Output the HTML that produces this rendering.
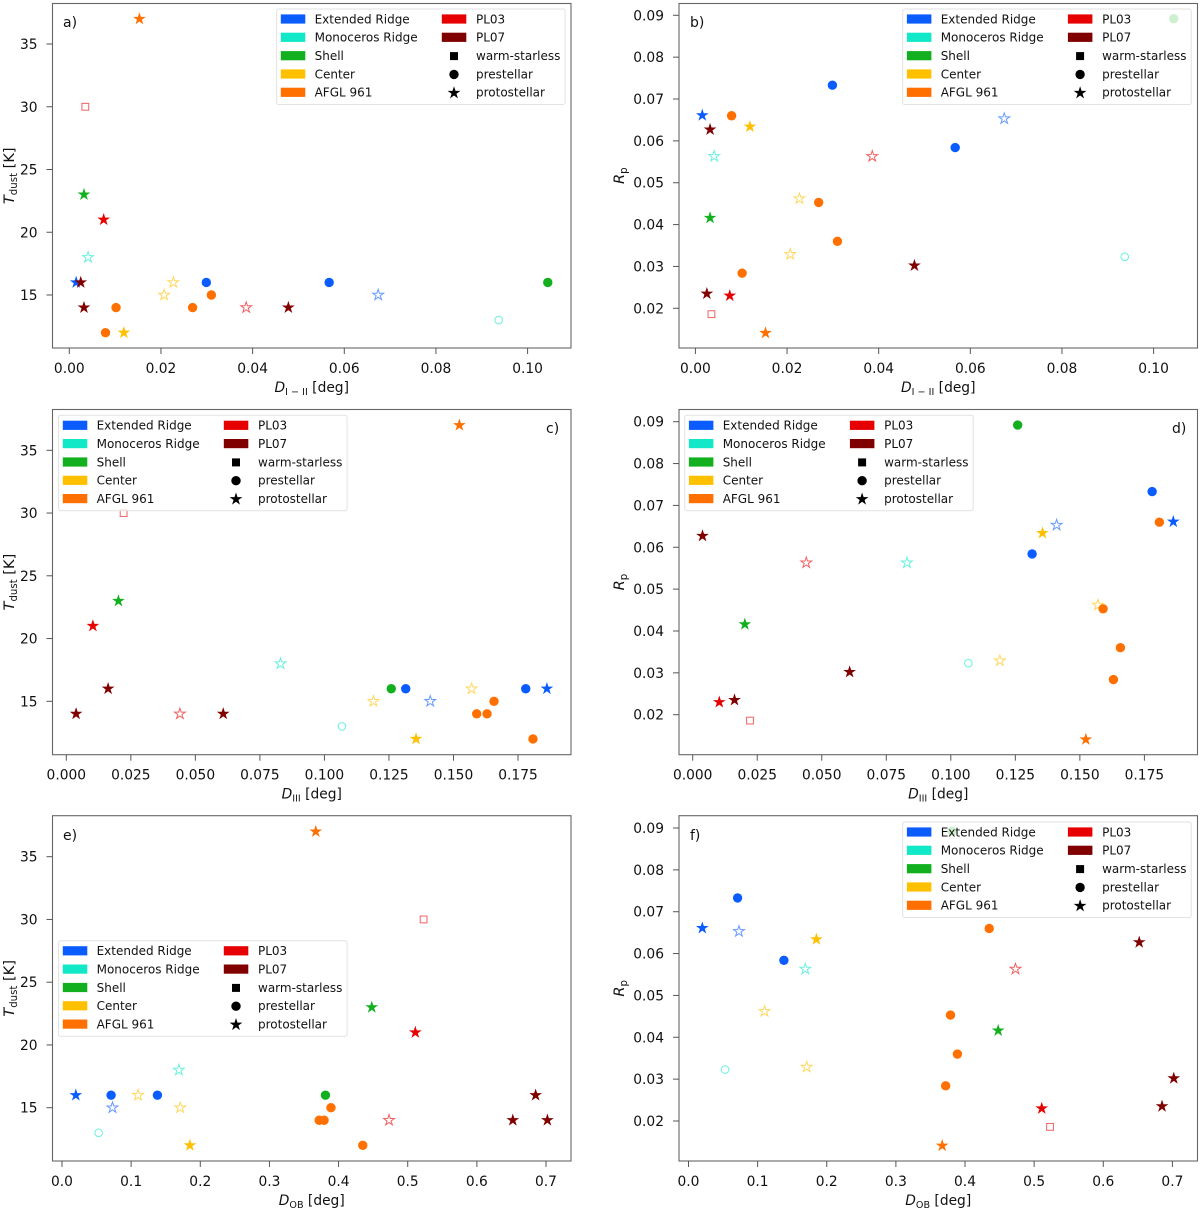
<!DOCTYPE html>
<html lang="en">
<head>
<meta charset="utf-8">
<title>Dust temperature and Rp versus projected distances</title>
<style>
html,body{margin:0;padding:0;background:#fff;}
#chart{display:block;width:1200px;height:1210px;filter:blur(0.3px);}
text{font-family:"DejaVu Sans","Liberation Sans",sans-serif;fill:#111;}
</style>
</head>
<body>
<svg id="chart" xmlns="http://www.w3.org/2000/svg" width="1200" height="1210" viewBox="0 0 1200 1210"></svg>
<script>
// ---------- data ----------
const regionNames = ['Extended Ridge','Monoceros Ridge','Shell','Center','AFGL 961','PL03','PL07'];
const classNames = ['warm-starless','prestellar','protostellar'];
const regionColors = ['#0a5cff','#10e8c8','#12b01e','#ffc000','#ff7000','#e60000','#800000'];
const sourceRegion = [0,0,0,0,1,1,2,2,3,3,3,4,4,4,4,4,5,5,5,6,6,6];
const sourceClass  = [2,1,1,2,2,1,2,1,2,2,2,2,1,1,1,1,0,2,2,2,2,2];
const sourceFilled = [1,1,1,0,0,0,1,1,0,0,1,1,1,1,1,1,0,1,0,1,1,1];
const tDust = [16,16,16,15,18,13,23,16,16,15,12,37,14,14,15,12,30,21,14,14,16,14];
const rP    = [0.0661,0.0733,0.0584,0.0653,0.0563,0.0323,0.0416,0.0892,0.0462,0.0329,0.0634,0.0141,0.0284,0.0453,0.0360,0.0660,0.0186,0.0230,0.0563,0.0627,0.0235,0.0302];
const dI_II = [0.0015,0.0299,0.0567,0.0674,0.0041,0.0937,0.0032,0.1044,0.0227,0.0207,0.0119,0.0153,0.0102,0.0269,0.0310,0.0079,0.0035,0.0075,0.0386,0.0032,0.0025,0.0478];
const dIII  = [0.1862,0.1780,0.1315,0.1410,0.0830,0.1068,0.0202,0.1259,0.1570,0.1190,0.1355,0.1523,0.1630,0.1590,0.1657,0.1808,0.0222,0.0103,0.0440,0.0038,0.0162,0.0608];
const dOB   = [0.020,0.071,0.138,0.073,0.169,0.053,0.448,0.381,0.110,0.171,0.185,0.367,0.372,0.379,0.389,0.435,0.523,0.511,0.473,0.652,0.685,0.702];
const ticksTemp = ['15','20','25','30','35'];
const ticksRp = ['0.02','0.03','0.04','0.05','0.06','0.07','0.08','0.09'];
const ticksDI = ['0.00','0.02','0.04','0.06','0.08','0.10'];
const ticksDIII = ['0.000','0.025','0.050','0.075','0.100','0.125','0.150','0.175'];
const ticksDOB = ['0.0','0.1','0.2','0.3','0.4','0.5','0.6','0.7'];

// ---------- layout of each panel ----------
const panels = [
 {tag:'a)',tagX:63,tagY:27,box:[52.5,571,3.5,348],xv:dI_II,xt:ticksDI,xa:[0,69.3,0.1,527.6],xl:['I − II'],yv:tDust,yt:ticksTemp,ya:[15,295,35,44],kind:'T',leg:[276.6,9]},
 {tag:'b)',tagX:690,tagY:27,box:[679,1197.5,3.5,348],xv:dI_II,xt:ticksDI,xa:[0,695.4,0.1,1153.6],xl:['I − II'],yv:rP,yt:ticksRp,ya:[0.02,308.3,0.09,15.3],kind:'R',leg:[902.7,9]},
 {tag:'c)',tagX:546,tagY:433,box:[52.5,571,409.5,754.7],xv:dIII,xt:ticksDIII,xa:[0,66.3,0.175,518],xl:['III'],yv:tDust,yt:ticksTemp,ya:[15,701.3,35,450.3],kind:'T',leg:[58.6,415.3]},
 {tag:'d)',tagX:1172,tagY:433,box:[679,1197.5,409.5,754.7],xv:dIII,xt:ticksDIII,xa:[0,692.7,0.175,1144.4],xl:['III'],yv:rP,yt:ticksRp,ya:[0.02,714.7,0.09,421.7],kind:'R',leg:[684.7,415.3]},
 {tag:'e)',tagX:63,tagY:840,box:[52.5,571,815.7,1161],xv:dOB,xt:ticksDOB,xa:[0,62,0.7,546],xl:['OB'],yv:tDust,yt:ticksTemp,ya:[15,1107.7,35,856.7],kind:'T',leg:[58.6,940.8]},
 {tag:'f)',tagX:690,tagY:840,box:[679,1197.5,815.7,1161],xv:dOB,xt:ticksDOB,xa:[0,688.5,0.7,1172.4],xl:['OB'],yv:rP,yt:ticksRp,ya:[0.02,1121,0.09,828],kind:'R',leg:[902.7,822]}
];

// ---------- helpers ----------
const NS = 'http://www.w3.org/2000/svg';
const svg = document.getElementById('chart');
function mk(tag, attrs, parent){
  const e = document.createElementNS(NS, tag);
  for (const k in attrs) e.setAttribute(k, attrs[k]);
  parent.appendChild(e);
  return e;
}
function scale(a){
  return v => a[1] + (v - a[0]) * (a[3] - a[1]) / (a[2] - a[0]);
}
function starPoints(cx, cy, R){
  const p = [];
  for (let i = 0; i < 10; i++){
    const r = i % 2 ? R * 0.382 : R;
    const t = -Math.PI / 2 + i * Math.PI / 5;
    p.push((cx + r * Math.cos(t)).toFixed(2) + ',' + (cy + r * Math.sin(t)).toFixed(2));
  }
  return p.join(' ');
}
function shape(cls, cx, cy, filled, attrs, parent){
  if (cls === 0){
    const s = filled ? 4 : 3.4;
    return mk('rect', Object.assign({x:cx-s,y:cy-s,width:s*2,height:s*2}, attrs), parent);
  }
  if (cls === 1){
    const rr = filled ? 4.7 : 3.8;
    return mk('circle', Object.assign({cx:cx,cy:cy,r:rr}, attrs), parent);
  }
  return mk('polygon', Object.assign({points:starPoints(cx,cy,filled ? 6.7 : 5.7)}, attrs), parent);
}
function sub(textEl, txt, fs){
  const s = mk('tspan', {dy:3,'font-size':fs}, textEl);
  s.textContent = txt;
  const back = mk('tspan', {dy:-3}, textEl);
  return back;
}

// ---------- drawing ----------
panels.forEach(function(p, pi){
  const letter = p.tag.charAt(0);
  const g = mk('g', {}, svg);
  
  
  const x = scale(p.xa), y = scale(p.ya);
  const L = p.box[0], R = p.box[1], T = p.box[2], B = p.box[3];

  const frame = mk('rect', {x:L,y:T,width:R-L,height:B-T,fill:'#fff',stroke:'#666','stroke-width':1.1}, g);
  
  

  // x ticks
  p.xt.forEach(function(lab){
    const px = x(parseFloat(lab));
    const tk = mk('line', {x1:px,x2:px,y1:B,y2:B+6,stroke:'#555','stroke-width':1}, g);
    
    
    const t = mk('text', {x:px,y:B+25,'text-anchor':'middle','font-size':13.8}, g);
    
    
    t.textContent = lab;
  });
  // y ticks
  p.yt.forEach(function(lab){
    const py = y(parseFloat(lab));
    const tk = mk('line', {x1:L-6,x2:L,y1:py,y2:py,stroke:'#555','stroke-width':1}, g);
    
    
    const t = mk('text', {x:L-15,y:py+5,'text-anchor':'end','font-size':13.8}, g);
    
    
    t.textContent = lab;
  });

  // x axis title
  const xt = mk('text', {x:(L+R)/2,y:B+44,'text-anchor':'middle','font-size':13.8}, g);
  
  
  const xi = mk('tspan', {'font-style':'italic'}, xt);
  xi.textContent = 'D';
  sub(xt, p.xl[0], 9.6).textContent = '\u00a0[deg]';

  // y axis title
  const cy = (T + B) / 2;
  const ytx = p.kind === 'T' ? L - 38.5 : L - 55;
  const yt = mk('text', {x:0,y:0,'text-anchor':'middle','font-size':14.6,transform:'translate(' + ytx + ' ' + cy + ') rotate(-90)'}, g);
  
  
  const yi = mk('tspan', {'font-style':'italic'}, yt);
  if (p.kind === 'T'){
    yi.textContent = 'T';
    sub(yt, 'dust', 10.2).textContent = '\u00a0[K]';
  } else {
    yi.textContent = 'R';
    sub(yt, 'p', 10.2);
  }

  // panel tag
  const tg = mk('text', {x:p.tagX,y:p.tagY,'font-size':14}, g);
  
  
  tg.textContent = p.tag;

  // points
  const pts = mk('g', {}, g);
  
  
  sourceRegion.forEach(function(reg, i){
    const col = regionColors[reg];
    const filled = sourceFilled[i] === 1;
    const a = filled
      ? {fill:col}
      : {fill:'#fff',stroke:col,'stroke-width':1,'stroke-opacity':0.62};
    const m = shape(sourceClass[i], x(p.xv[i]), y(p.yv[i]), filled, a, pts);
    
    
  });

  // legend
  const lx = p.leg[0], ly = p.leg[1];
  const lg = mk('g', {}, g);
  
  
  mk('rect', {x:lx,y:ly,width:288.5,height:95.5,rx:2,fill:'#fff','fill-opacity':0.8,stroke:'#e2e2e2','stroke-width':1}, lg);
  const rows = [10,28.3,46.7,65,83.3];
  regionNames.forEach(function(name, i){
    const col2 = i >= 5;
    const ry = ly + rows[col2 ? i - 5 : i];
    const px = lx + (col2 ? 165.2 : 4.2);
    const entry = mk('g', {}, lg);
    
    
    mk('rect', {x:px,y:ry-4.6,width:24.5,height:9.2,fill:regionColors[i]}, entry);
    const t = mk('text', {x:lx+(col2?199.4:38),y:ry+4.4,'font-size':12}, entry);
    t.textContent = name;
  });
  classNames.forEach(function(name, i){
    const ry = ly + rows[i + 2];
    const entry = mk('g', {}, lg);
    
    
    shape(i, lx + 177.4, ry + (i === 2 ? 0.6 : 0.4), true, {fill:'#000'}, entry);
    const t = mk('text', {x:lx+199.4,y:ry+4.4,'font-size':12}, entry);
    t.textContent = name;
  });
});
</script>
</body>
</html>
